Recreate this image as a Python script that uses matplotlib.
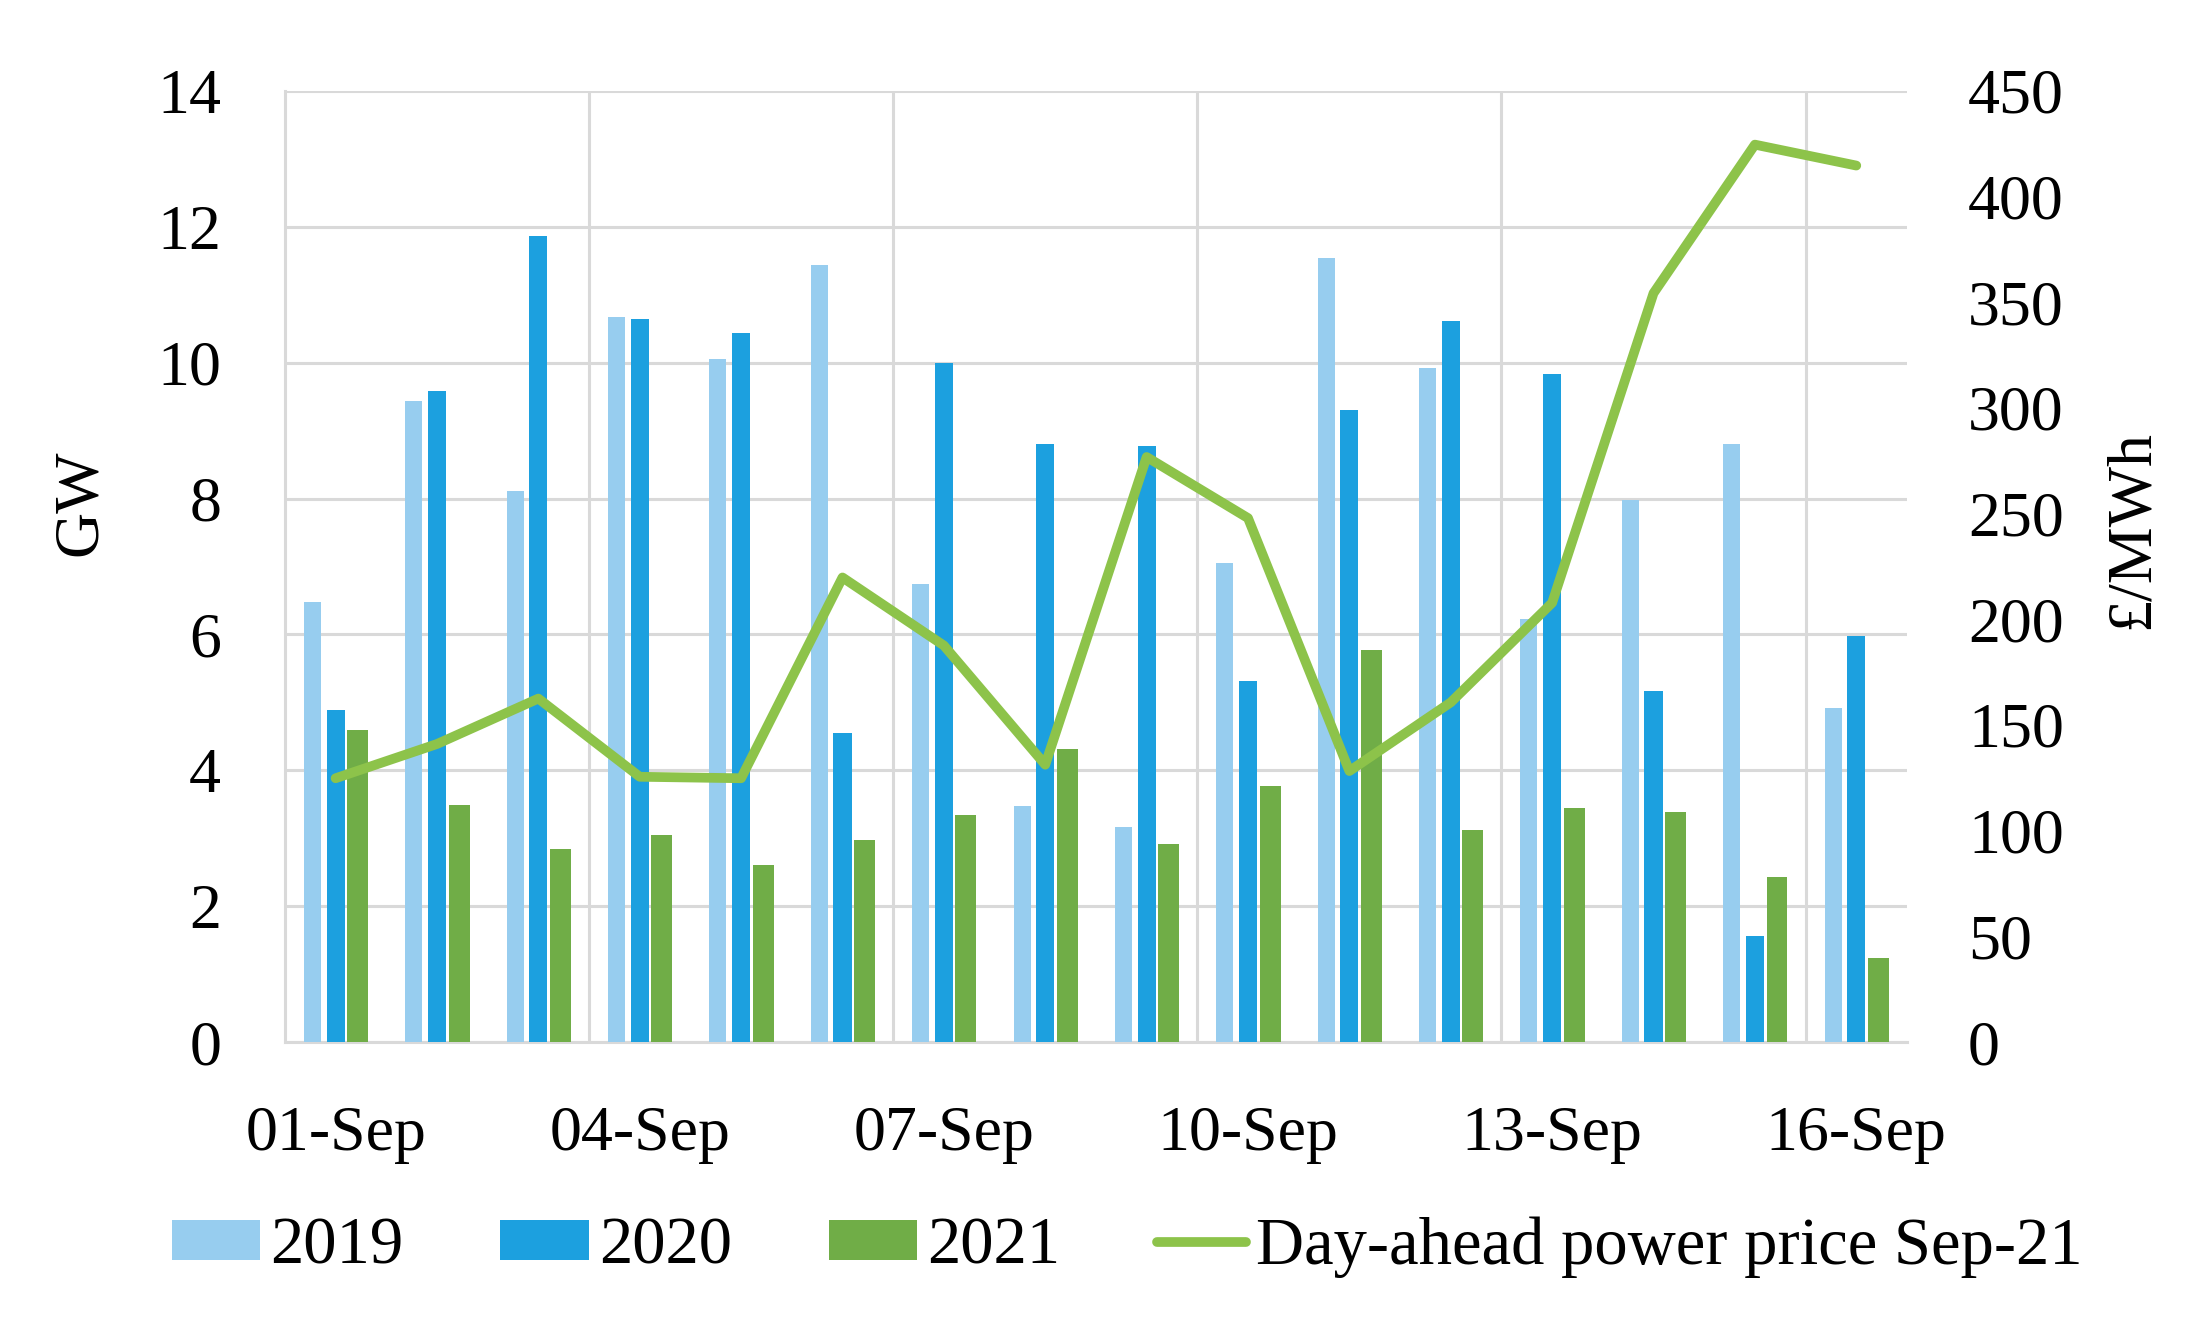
import matplotlib
matplotlib.use("Agg")
import matplotlib.pyplot as plt
import numpy as np

days = ["01-Sep", "02-Sep", "03-Sep", "04-Sep", "05-Sep", "06-Sep", "07-Sep", "08-Sep",
        "09-Sep", "10-Sep", "11-Sep", "12-Sep", "13-Sep", "14-Sep", "15-Sep", "16-Sep"]
gw_2019 = [6.47, 9.43, 8.11, 10.67, 10.05, 11.44, 6.74, 3.47, 3.16, 7.05, 11.54, 9.92, 6.22, 7.98, 8.80, 4.91]
gw_2020 = [4.89, 9.58, 11.86, 10.64, 10.44, 4.55, 9.99, 8.81, 8.78, 5.31, 9.30, 10.61, 9.83, 5.16, 1.56, 5.97]
gw_2021 = [4.60, 3.49, 2.84, 3.05, 2.61, 2.98, 3.34, 4.31, 2.91, 3.77, 5.77, 3.12, 3.44, 3.39, 2.43, 1.24]
price = [124.8, 141.0, 162.5, 125.5, 124.8, 219.8, 187.6, 131.2, 276.8, 247.9, 128.2, 160.7, 207.8, 354.3, 424.6, 414.7]
tick_idx = [0, 3, 6, 9, 12, 15]

FONT = ["Liberation Serif", "DejaVu Serif"]
plt.rcParams["font.family"] = FONT
FS = 46

c19, c20, c21, cline = "#97CDEF", "#1CA0DF", "#70AD47", "#8DC34A"
grid_c = "#D9D9D9"

fig = plt.figure(figsize=(22.12, 13.2), dpi=100)
ax = fig.add_axes([0.1288, 0.2106, 0.8621 - 0.1288, 0.9311 - 0.2106])
x = np.arange(len(days))

ax.bar(x - 0.229, gw_2019, width=0.168, color=c19, label="2019", zorder=3)
ax.bar(x, gw_2020, width=0.178, color=c20, label="2020", zorder=3)
ax.bar(x + 0.218, gw_2021, width=0.207, color=c21, label="2021", zorder=3)

ax.set_xlim(-0.5, len(days) - 0.5)
ax.set_ylim(0, 14)
ax.set_yticks(np.arange(0, 15, 2))
ax.set_xticks(tick_idx)
ax.set_xticklabels([days[i] for i in tick_idx])
ax.set_xticks([2.5, 5.5, 8.5, 11.5, 14.5], minor=True)
ax.grid(True, axis="y", color=grid_c, linewidth=2.2, zorder=0)
ax.grid(True, axis="x", which="minor", color=grid_c, linewidth=2.2, zorder=0)
ax.grid(False, axis="x", which="major")
ax.tick_params(axis="both", which="both", length=0, labelsize=FS)
ax.tick_params(axis="y", pad=46)
ax.tick_params(axis="x", pad=46)
for s in ["top", "right"]:
    ax.spines[s].set_visible(False)
for s in ["left", "bottom"]:
    ax.spines[s].set_color(grid_c)
    ax.spines[s].set_linewidth(2.2)
ax.set_ylabel("GW", fontsize=FS)
ax.yaxis.set_label_coords(-0.108, 0.567)

ax2 = ax.twinx()
ax2.plot(x, price, color=cline, linewidth=7, solid_capstyle="round", solid_joinstyle="round",
         label="Day-ahead power price Sep-21", zorder=4)
ax2.set_ylim(0, 450)
ax2.set_yticks(np.arange(0, 451, 50))
ax2.tick_params(axis="y", length=0, labelsize=FS, pad=44)
for s in ["top", "right", "left", "bottom"]:
    ax2.spines[s].set_visible(False)
ax2.set_ylabel("£/MWh", fontsize=FS)
ax2.yaxis.set_label_coords(1.1215, 0.539)

h1, l1 = ax.get_legend_handles_labels()
h2, l2 = ax2.get_legend_handles_labels()
fig.legend(h1 + h2, l1 + l2, loc="center", bbox_to_anchor=(0.5095, 0.0553), ncol=4,
           frameon=False, fontsize=48, handlelength=1.33, handleheight=0.55,
           handletextpad=0.15, columnspacing=1.45)

fig.savefig("out.png", dpi=100)
